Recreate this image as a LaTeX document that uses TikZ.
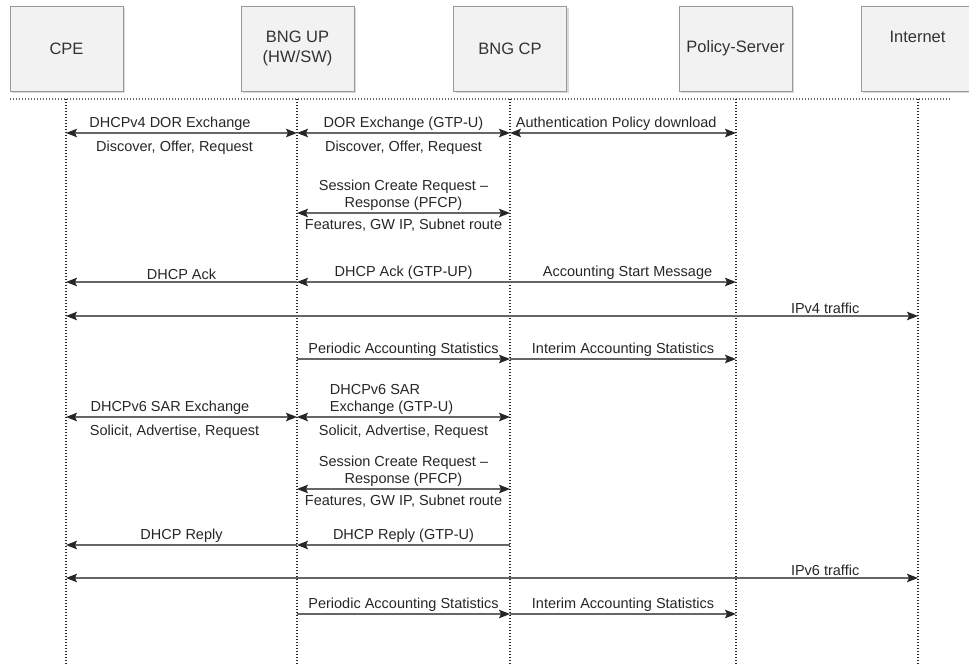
\documentclass[tikz,border=0pt]{standalone}
\usepackage{fontspec}
\setmainfont{Liberation Sans}
\usetikzlibrary{arrows.meta,shadows}
\begin{document}
\begin{tikzpicture}[x=1pt,y=-1pt,
    box/.style={draw=black!40,fill=black!5,minimum width=113pt,minimum height=85pt,align=center,
        text=black!80,font=\fontsize{16.5}{20}\selectfont,
        drop shadow={shadow xshift=2pt,shadow yshift=-2pt,fill=black!25,opacity=0.6}},
    life/.style={black!85,line width=1.2pt,dash pattern=on 1.2pt off 1.8pt},
    msg/.style={draw=black!60,line width=1.3pt,text=black!85,font=\fontsize{14.5}{17}\selectfont,
        >={Stealth[length=11pt,width=8.5pt,inset=2pt,black!85]}},
    every node/.append style={inner sep=2pt}]
    \useasboundingbox (0,0) rectangle (969,666);
    \node[box](cpe)at(66.5,48.5) {CPE};
    \node[box](up)at(297.5,48.5) {BNG UP\\(HW/SW)};
    \node[box](cp)at(510,48.5) {BNG CP};
    \node[box](ps)at(735.5,48.5) {Policy-Server};
    \node[box,text depth=23pt](inet)at(917.5,48.5) {Internet};

    \draw[black!60,line width=1.2pt,dash pattern=on 1.2pt off 1.8pt] (10,99) -- (950,99);
    \foreach \n/\x in {cpe/66,up/297,cp/510,ps/736,inet/918}{
        \draw[life] (\x,99) -- (\x,666);
        \foreach \r/\y in {dor/133,sess/213,ack/282,vfour/316,acct/359,sar/417,sessb/489,reply/545,vsix/578,acctb/614}
            \coordinate (\n-\r) at (\x,\y);
    }

    % IPv4
    \draw[msg,<->](cpe-dor) --node[pos=0.45,above]{DHCPv4 DOR Exchange} node[pos=0.47,below=5pt]{Discover, Offer, Request} (up-dor);
    \draw[msg,<->](up-dor) --node[above]{DOR Exchange (GTP-U)} node[below=5pt]{Discover, Offer, Request} (cp-dor);
    \draw[msg,<->](cp-dor) --node[pos=0.47,above]{Authentication Policy download} (ps-dor);
    \draw[msg,<->](up-sess) --node[above=0pt,align=center]{Session Create Request --\\Response (PFCP)} node[below=3pt]{Features, GW IP, Subnet route} (cp-sess);
    \draw[msg,->](up-ack) --node[above]{DHCP Ack} (cpe-ack);
    \draw[msg,->](cp-ack) --node[above]{DHCP Ack (GTP-UP)} (up-ack);
    \draw[msg,->](cp-ack) --node[pos=0.52,above]{Accounting Start Message} (ps-ack);
    \draw[msg,<->](cpe-vfour) --node[pos=0.891,above]{IPv4 traffic} (inet-vfour);
    \draw[msg,->](up-acct) --node[above]{Periodic Accounting Statistics} (cp-acct);
    \draw[msg,->](cp-acct) --node[above]{Interim Accounting Statistics} (ps-acct);

    % IPv6
    \draw[msg,<->](cpe-sar) --node[pos=0.45,above]{DHCPv6 SAR Exchange} node[pos=0.47,below=5pt]{Solicit, Advertise, Request} (up-sar);
    \draw[msg,<->](up-sar) --node[above=0pt,align=left,xshift=-12pt]{DHCPv6 SAR\\Exchange (GTP-U)} node[below=5pt]{Solicit, Advertise, Request} (cp-sar);
    \draw[msg,<->](up-sessb) --node[above=0pt,align=center]{Session Create Request --\\Response (PFCP)} node[below=3pt]{Features, GW IP, Subnet route} (cp-sessb);
    \draw[msg,->](up-reply) --node[above]{DHCP Reply} (cpe-reply);
    \draw[msg,->](cp-reply) --node[above]{DHCP Reply (GTP-U)} (up-reply);
    \draw[msg,<->](cpe-vsix) --node[pos=0.891,above]{IPv6 traffic} (inet-vsix);
    \draw[msg,->](up-acctb) --node[above]{Periodic Accounting Statistics} (cp-acctb);
    \draw[msg,->](cp-acctb) --node[above]{Interim Accounting Statistics} (ps-acctb);
\end{tikzpicture}
\end{document}
